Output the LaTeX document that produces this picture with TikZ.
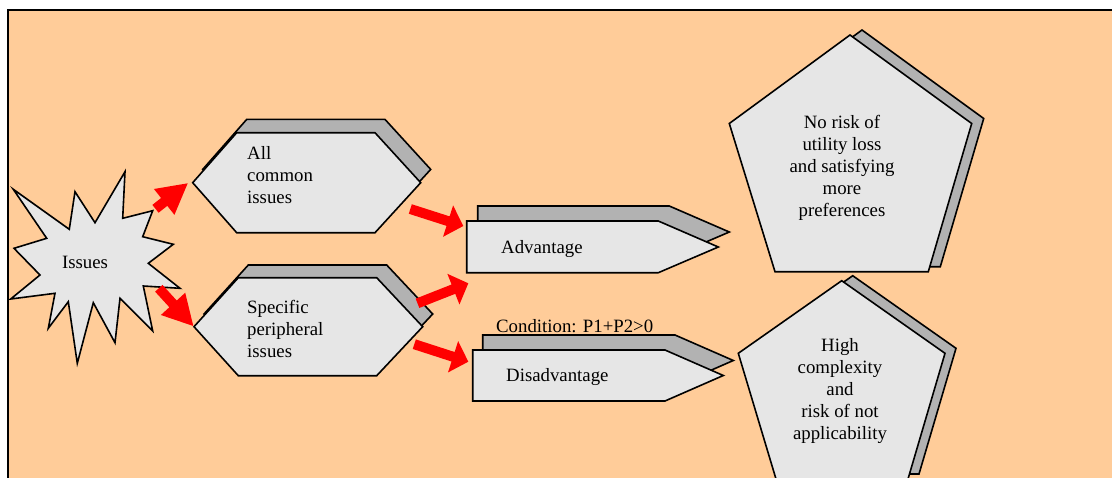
\documentclass[tikz,border=0pt]{standalone}
\usepackage{fontspec}
\setmainfont{Liberation Serif}
\usetikzlibrary{calc}
\definecolor{bgpeach}{HTML}{FFCC99}
\definecolor{facegray}{HTML}{E6E6E6}
\definecolor{shadegray}{HTML}{B2B2B2}
\tikzset{
  face/.style={draw=black, line width=1.6pt, fill=facegray, line join=miter},
  shadow/.style={draw=black, line width=1.6pt, fill=shadegray, line join=miter},
  txt/.style={font=\fontsize{18.8}{22}\selectfont, inner sep=0pt},
}
% block arrow from tail #1 to tip #2, head length #3
\newcommand{\redarrow}[3]{%
  \coordinate (ha) at ($(#2)!#3!(#1)$);
  \fill[red] ($(#1)!5pt!90:(#2)$) -- ($(ha)!5pt!90:(#2)$) -- ($(ha)!16.5pt!90:(#2)$)
    -- (#2) -- ($(ha)!16.5pt!-90:(#2)$) -- ($(ha)!5pt!-90:(#2)$) -- ($(#1)!5pt!-90:(#2)$) -- cycle;
}
\begin{document}
\begin{tikzpicture}[x=1pt,y=-1pt]
\useasboundingbox (0,0) rectangle (1112,477);
\clip (0,0) rectangle (1112,477);
% frame
\fill[bgpeach] (8,10) rectangle (1112,480);
\draw[line width=2pt] (8,480) -- (8,10) -- (1112,10);

% starburst
\draw[face] (13.3,189.3) -- (69.3,229.3) -- (75,191.7) -- (95,222.7) -- (125,171.7) -- (122.7,218.3)
  -- (152.7,210.7) -- (142.7,236.7) -- (173.3,244.3) -- (148.3,263.3) -- (180,288.3) -- (143.3,286)
  -- (152.7,331) -- (120,298.3) -- (115,342.7) -- (93.3,302.7) -- (77.3,363.3) -- (68.3,301.7)
  -- (48.3,328.3) -- (55,293.3) -- (10.7,299) -- (40,275) -- (14,248.3) -- (46.7,238.3) -- cycle;
\node[txt] (issues) at (85,262) {Issues};

% hexagon: common issues
\begin{scope}[shift={(10,-13.3)}]
\draw[shadow] (192.7,182.7) -- (236.7,132.7) -- (375,132.7) -- (420.7,182.7) -- (375,232.7) -- (236.7,232.7) -- cycle;
\end{scope}
\draw[face] (192.7,182.7) -- (236.7,132.7) -- (375,132.7) -- (420.7,182.7) -- (375,232.7) -- (236.7,232.7) -- cycle;
\node[txt, align=left, anchor=west] (common) at (247,175.5) {All\\common\\issues};

% hexagon: specific peripheral issues
\begin{scope}[shift={(10,-12.7)}]
\draw[shadow] (194,326.7) -- (238.3,277.7) -- (376.7,277.7) -- (422.7,326.7) -- (376.7,375.7) -- (238.3,375.7) -- cycle;
\end{scope}
\draw[face] (194,326.7) -- (238.3,277.7) -- (376.7,277.7) -- (422.7,326.7) -- (376.7,375.7) -- (238.3,375.7) -- cycle;
\node[txt, align=left, anchor=west] (specific) at (247,328.5) {Specific\\peripheral\\issues};

% pentagon arrow: advantage
\begin{scope}[shift={(11,-15)}]
\draw[shadow] (466.7,221) -- (658.3,221) -- (718.3,247) -- (658.3,272.7) -- (466.7,272.7) -- cycle;
\end{scope}
\draw[face] (466.7,221) -- (658.3,221) -- (718.3,247) -- (658.3,272.7) -- (466.7,272.7) -- cycle;
\node[txt, anchor=west] (adv) at (501,249.5) {Advantage};

% pentagon arrow: disadvantage
\begin{scope}[shift={(10,-15)}]
\draw[shadow] (472.7,350) -- (665,350) -- (723.3,375.5) -- (665,401) -- (472.7,401) -- cycle;
\end{scope}
\draw[face] (472.7,350) -- (665,350) -- (723.3,375.5) -- (665,401) -- (472.7,401) -- cycle;
\node[txt, anchor=west] (dis) at (506,377.5) {Disadvantage};
\node[txt, anchor=west] (cond) at (496,326) {Condition: P1+P2>0};

% pentagon: outcome of advantage
\begin{scope}[shift={(12,-5)}]
\draw[shadow] (850,35) -- (971.7,123.5) -- (928.3,271.7) -- (775,271.7) -- (729.3,123.5) -- cycle;
\end{scope}
\draw[face] (850,35) -- (971.7,123.5) -- (928.3,271.7) -- (775,271.7) -- (729.3,123.5) -- cycle;
\node[txt, align=center] (pro) at (842,168) {No risk of\\utility loss\\and satisfying\\more\\preferences};

% pentagon: outcome of disadvantage
\begin{scope}[shift={(11,-5)}]
\draw[shadow] (841.7,280.7) -- (945,353.3) -- (908,479) -- (776,479) -- (738.3,353.3) -- cycle;
\end{scope}
\draw[face] (841.7,280.7) -- (945,353.3) -- (908,479) -- (776,479) -- (738.3,353.3) -- cycle;
\node[txt, align=center] (con) at (840,391.5) {High\\complexity\\and\\risk of not\\applicability};

% red block arrows
\coordinate (a1s) at (155.5,208.8); \coordinate (a1e) at (187.7,183.3);
\coordinate (a2s) at (158.8,288.3); \coordinate (a2e) at (193.3,326);
\coordinate (a3s) at (410.3,209);   \coordinate (a3e) at (463.3,226);
\coordinate (a4s) at (417.5,303.3); \coordinate (a4e) at (468.3,283.3);
\coordinate (a5s) at (414.3,344.2); \coordinate (a5e) at (468.3,361.7);
\redarrow{a1s}{a1e}{30pt}
\redarrow{a2s}{a2e}{30pt}
\redarrow{a3s}{a3e}{16pt}
\redarrow{a4s}{a4e}{16pt}
\redarrow{a5s}{a5e}{16pt}
\end{tikzpicture}
\end{document}
